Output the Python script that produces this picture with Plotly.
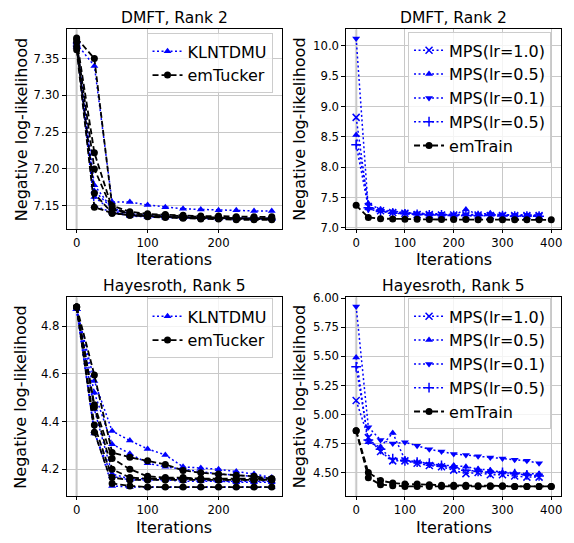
import plotly.graph_objects as go

W, H = 574, 543

# ---------------- data ----------------
iters_tucker = [0, 25, 50, 75, 100, 125, 150, 175, 200, 225, 250, 275]
iters_mps = [0, 25, 50, 75, 100, 125, 150, 175, 200, 225, 250, 275, 300, 325, 350, 375]
iters_em = [0, 25, 50, 75, 100, 125, 150, 175, 200, 225, 250, 275, 300, 325, 350, 375, 400]

# DMFT rank 2 (left)
dmft_klntdmu_runs = [
    [7.370, 7.340, 7.155, 7.155, 7.151, 7.148, 7.146, 7.145, 7.144, 7.144, 7.143, 7.143],
    [7.372, 7.178, 7.146, 7.138, 7.136, 7.135, 7.134, 7.134, 7.133, 7.133, 7.133, 7.133],
    [7.368, 7.162, 7.143, 7.137, 7.135, 7.134, 7.134, 7.133, 7.133, 7.133, 7.132, 7.132],
    [7.374, 7.170, 7.147, 7.139, 7.137, 7.136, 7.135, 7.134, 7.134, 7.133, 7.133, 7.133],
    [7.366, 7.150, 7.141, 7.136, 7.135, 7.134, 7.133, 7.133, 7.132, 7.132, 7.132, 7.132],
]
dmft_emtucker_runs = [
    [7.378, 7.350, 7.150, 7.142, 7.139, 7.138, 7.137, 7.136, 7.136, 7.135, 7.135, 7.135],
    [7.376, 7.222, 7.147, 7.140, 7.138, 7.137, 7.135, 7.134, 7.134, 7.133, 7.133, 7.133],
    [7.372, 7.200, 7.145, 7.139, 7.136, 7.135, 7.134, 7.133, 7.133, 7.132, 7.132, 7.132],
    [7.366, 7.167, 7.140, 7.137, 7.135, 7.134, 7.133, 7.132, 7.132, 7.131, 7.131, 7.131],
    [7.362, 7.148, 7.140, 7.137, 7.136, 7.135, 7.134, 7.134, 7.133, 7.133, 7.133, 7.133],
]

# DMFT rank 2 (right)
dmft_mps_lr10 = [8.82, 7.35, 7.28, 7.25, 7.24, 7.22, 7.22, 7.21, 7.21, 7.21, 7.21, 7.20, 7.20, 7.20, 7.20, 7.20]
dmft_mps_lr05a = [8.53, 7.40, 7.30, 7.27, 7.25, 7.23, 7.22, 7.21, 7.21, 7.30, 7.22, 7.24, 7.21, 7.20, 7.20, 7.20]
dmft_mps_lr01 = [10.12, 7.30, 7.28, 7.26, 7.25, 7.24, 7.23, 7.23, 7.22, 7.22, 7.22, 7.22, 7.22, 7.21, 7.21, 7.21]
dmft_mps_lr05b = [8.37, 7.33, 7.27, 7.24, 7.23, 7.22, 7.21, 7.21, 7.20, 7.20, 7.20, 7.20, 7.20, 7.19, 7.19, 7.19]
dmft_emtrain = [7.37, 7.17, 7.15, 7.145, 7.14, 7.14, 7.135, 7.135, 7.135, 7.135, 7.13, 7.13, 7.13, 7.13, 7.13, 7.13, 7.13]

# Hayesroth rank 5 (left)
hayes_klntdmu_runs = [
    [4.870, 4.570, 4.360, 4.320, 4.285, 4.260, 4.210, 4.205, 4.200, 4.190, 4.180, 4.165],
    [4.870, 4.520, 4.305, 4.265, 4.225, 4.210, 4.200, 4.190, 4.180, 4.175, 4.170, 4.160],
    [4.870, 4.450, 4.180, 4.160, 4.160, 4.160, 4.160, 4.155, 4.150, 4.150, 4.150, 4.150],
    [4.870, 4.350, 4.170, 4.155, 4.155, 4.155, 4.150, 4.150, 4.150, 4.145, 4.145, 4.145],
    [4.870, 4.360, 4.130, 4.125, 4.125, 4.125, 4.125, 4.125, 4.125, 4.125, 4.125, 4.125],
]
hayes_emtucker_runs = [
    [4.880, 4.595, 4.270, 4.250, 4.235, 4.220, 4.195, 4.185, 4.180, 4.175, 4.170, 4.160],
    [4.880, 4.470, 4.245, 4.200, 4.170, 4.165, 4.165, 4.160, 4.160, 4.160, 4.160, 4.160],
    [4.880, 4.460, 4.200, 4.165, 4.160, 4.160, 4.160, 4.160, 4.155, 4.155, 4.155, 4.155],
    [4.880, 4.385, 4.165, 4.155, 4.155, 4.155, 4.155, 4.155, 4.155, 4.155, 4.155, 4.155],
    [4.880, 4.355, 4.140, 4.130, 4.125, 4.125, 4.125, 4.125, 4.125, 4.125, 4.125, 4.125],
]

# Hayesroth rank 5 (right)
hayes_mps_lr10 = [5.12, 4.80, 4.68, 4.60, 4.60, 4.58, 4.56, 4.55, 4.52, 4.49, 4.50, 4.48, 4.48, 4.47, 4.46, 4.46]
hayes_mps_lr05a = [5.49, 4.76, 4.72, 4.84, 4.61, 4.59, 4.57, 4.56, 4.56, 4.55, 4.53, 4.52, 4.50, 4.50, 4.49, 4.49]
hayes_mps_lr01 = [5.93, 4.89, 4.78, 4.75, 4.76, 4.73, 4.70, 4.68, 4.66, 4.65, 4.64, 4.63, 4.62, 4.61, 4.60, 4.58]
hayes_mps_lr05b = [5.41, 4.78, 4.70, 4.62, 4.60, 4.59, 4.58, 4.56, 4.54, 4.52, 4.51, 4.50, 4.50, 4.49, 4.48, 4.47]
hayes_emtrain = [4.86, 4.50, 4.43, 4.41, 4.40, 4.40, 4.395, 4.39, 4.39, 4.39, 4.385, 4.385, 4.385, 4.38, 4.38, 4.38, 4.38]
hayes_emtrain_b = [4.86, 4.455, 4.395, 4.385, 4.38, 4.38, 4.38, 4.38, 4.38, 4.38, 4.38, 4.38, 4.38, 4.38, 4.38, 4.38, 4.38]

titles = ["DMFT, Rank 2", "DMFT, Rank 2", "Hayesroth, Rank 5", "Hayesroth, Rank 5"]
mps_labels = ["MPS(lr=1.0)", "MPS(lr=0.5)", "MPS(lr=0.1)", "MPS(lr=0.5)"]

# ---------------- styling ----------------
BLUE = "#0000ff"
BLACK = "#000000"
FONT = "DejaVu Sans"
GRID = "#c8c8c8"

def px_x(p):
    return p / W

def px_y(p):
    return 1 - p / H

L0, L1 = 67, 282
R0, R1 = 347, 562
T0, T1 = 24, 228
B0, B1 = 298, 501

fig = go.Figure()

def add_line(x, y, ax, legend, name, show, kind, symbol="triangle-up"):
    xa = "x" if ax == 1 else f"x{ax}"
    ya = "y" if ax == 1 else f"y{ax}"
    if kind == "blue":
        line = dict(color=BLUE, width=1.5, dash="2px,2.5px")
        if symbol in ("x-thin", "cross-thin"):
            marker = dict(symbol=symbol, size=7, color=BLUE, line=dict(color=BLUE, width=1.5))
        else:
            marker = dict(symbol=symbol, size=7, color=BLUE, line=dict(width=0))
    else:
        line = dict(color=BLACK, width=1.8, dash="6px,3px")
        marker = dict(symbol="circle", size=7, color=BLACK, line=dict(width=0))
    fig.add_trace(go.Scatter(x=x, y=y, mode="lines+markers", line=line, marker=marker,
                             name=name, showlegend=show, legend=legend,
                             xaxis=xa, yaxis=ya))

# panel 1
for i, r in enumerate(dmft_klntdmu_runs):
    add_line(iters_tucker, r, 1, "legend", "KLNTDMU", i == 0, "blue")
for i, r in enumerate(dmft_emtucker_runs):
    add_line(iters_tucker, r, 1, "legend", "emTucker", i == 0, "black")

# panel 2
mps_symbols = ["x-thin", "triangle-up", "triangle-down", "cross-thin"]
for lab, sym, d in zip(mps_labels, mps_symbols, [dmft_mps_lr10, dmft_mps_lr05a, dmft_mps_lr01, dmft_mps_lr05b]):
    add_line(iters_mps, d, 2, "legend2", lab, True, "blue", sym)
add_line(iters_em, dmft_emtrain, 2, "legend2", "emTrain", True, "black")

# panel 3
for i, r in enumerate(hayes_klntdmu_runs):
    add_line(iters_tucker, r, 3, "legend3", "KLNTDMU", i == 0, "blue")
for i, r in enumerate(hayes_emtucker_runs):
    add_line(iters_tucker, r, 3, "legend3", "emTucker", i == 0, "black")

# panel 4
for lab, sym, d in zip(mps_labels, mps_symbols, [hayes_mps_lr10, hayes_mps_lr05a, hayes_mps_lr01, hayes_mps_lr05b]):
    add_line(iters_mps, d, 4, "legend4", lab, True, "blue", sym)
add_line(iters_em, hayes_emtrain, 4, "legend4", "emTrain", True, "black")
add_line(iters_em, hayes_emtrain_b, 4, "legend4", "emTrain", False, "black")

tickfont = dict(family=FONT, size=11.7, color="black")

def xaxis(dom, rng, ticks, anchor):
    return dict(domain=dom, range=rng, tickvals=ticks, ticktext=[str(t) for t in ticks],
                showgrid=True, gridcolor=GRID, gridwidth=1, zeroline=False,
                showline=True, linecolor="black", linewidth=1, mirror=True,
                ticks="outside", ticklen=3, tickcolor="black", tickfont=tickfont, anchor=anchor)

def yaxis(dom, rng, ticks, fmt, anchor):
    return dict(domain=dom, range=rng, tickvals=ticks, ticktext=[fmt.format(t) for t in ticks],
                showgrid=True, gridcolor=GRID, gridwidth=1, zeroline=False,
                showline=True, linecolor="black", linewidth=1, mirror=True,
                ticks="outside", ticklen=4, tickcolor="black", tickfont=tickfont, anchor=anchor)

xl = [px_x(L0), px_x(L1)]
xr = [px_x(R0), px_x(R1)]
yt = [px_y(T1), px_y(T0)]
yb = [px_y(B1), px_y(B0)]

legend_common = dict(bgcolor="rgba(255,255,255,0.8)", bordercolor="#cccccc", borderwidth=1,
                     font=dict(family=FONT, size=16, color="black"),
                     xanchor="right", yanchor="top", itemwidth=30, tracegroupgap=0)

fig.update_layout(
    width=W, height=H, margin=dict(l=0, r=0, t=0, b=0),
    paper_bgcolor="white", plot_bgcolor="white",
    font=dict(family=FONT, color="black"),
    xaxis=xaxis(xl, [-13.75, 288.75], [0, 100, 200], "y"),
    yaxis=yaxis(yt, [7.1185, 7.3895], [7.15, 7.20, 7.25, 7.30, 7.35], "{:.2f}", "x"),
    xaxis2=xaxis(xr, [-20, 420], [0, 100, 200, 300, 400], "y2"),
    yaxis2=yaxis(yt, [6.98, 10.27], [7.0, 7.5, 8.0, 8.5, 9.0, 9.5, 10.0], "{:.1f}", "x2"),
    xaxis3=xaxis(xl, [-13.75, 288.75], [0, 100, 200], "y3"),
    yaxis3=yaxis(yb, [4.088, 4.92], [4.2, 4.4, 4.6, 4.8], "{:.1f}", "x3"),
    xaxis4=xaxis(xr, [-20, 420], [0, 100, 200, 300, 400], "y4"),
    yaxis4=yaxis(yb, [4.298, 6.008], [4.50, 4.75, 5.00, 5.25, 5.50, 5.75, 6.00], "{:.2f}", "x4"),
    legend=dict(x=px_x(273), y=px_y(28), **legend_common),
    legend2=dict(x=px_x(552), y=px_y(27), **legend_common),
    legend3=dict(x=px_x(273), y=px_y(299), **legend_common),
    legend4=dict(x=px_x(552), y=px_y(299), **legend_common),
)

# slightly emphasized vertical grid line at the first iteration (as in reference)
shapes = []
for ax in ["", "2", "3", "4"]:
    shapes.append(dict(type="line", xref="x" + ax, yref=("y" + ax) + " domain",
                       x0=iters_em[0], x1=iters_em[0], y0=0, y1=1,
                       line=dict(color="#d8d8d8", width=2.5), layer="below"))
fig.update_layout(shapes=shapes)

ann = []
centers_x = [(L0 + L1) / 2, (R0 + R1) / 2, (L0 + L1) / 2, (R0 + R1) / 2]
title_y = [12.5, 12.5, 286, 286]
xlabel_y = [259, 259, 533, 533]
ylabel_x = [21, 300, 21, 300]
ylabel_yc = [(T0 + T1) / 2, (T0 + T1) / 2, (B0 + B1) / 2, (B0 + B1) / 2]
for i in range(4):
    ann.append(dict(text=titles[i], x=px_x(centers_x[i]), y=px_y(title_y[i]), xref="paper", yref="paper",
                    xanchor="center", yanchor="middle", showarrow=False,
                    font=dict(family=FONT, size=15.5, color="black")))
    ann.append(dict(text="Iterations", x=px_x(centers_x[i]), y=px_y(xlabel_y[i]), xref="paper", yref="paper",
                    xanchor="center", yanchor="middle", showarrow=False,
                    font=dict(family=FONT, size=16, color="black")))
    ann.append(dict(text="Negative log-likelihood", x=px_x(ylabel_x[i]), y=px_y(ylabel_yc[i]), xref="paper",
                    yref="paper", xanchor="center", yanchor="middle", showarrow=False, textangle=-90,
                    font=dict(family=FONT, size=16, color="black")))
fig.update_layout(annotations=ann)

fig.write_html("out.html", config={"displayModeBar": False},
               post_script="document.body.style.margin='0px';")
